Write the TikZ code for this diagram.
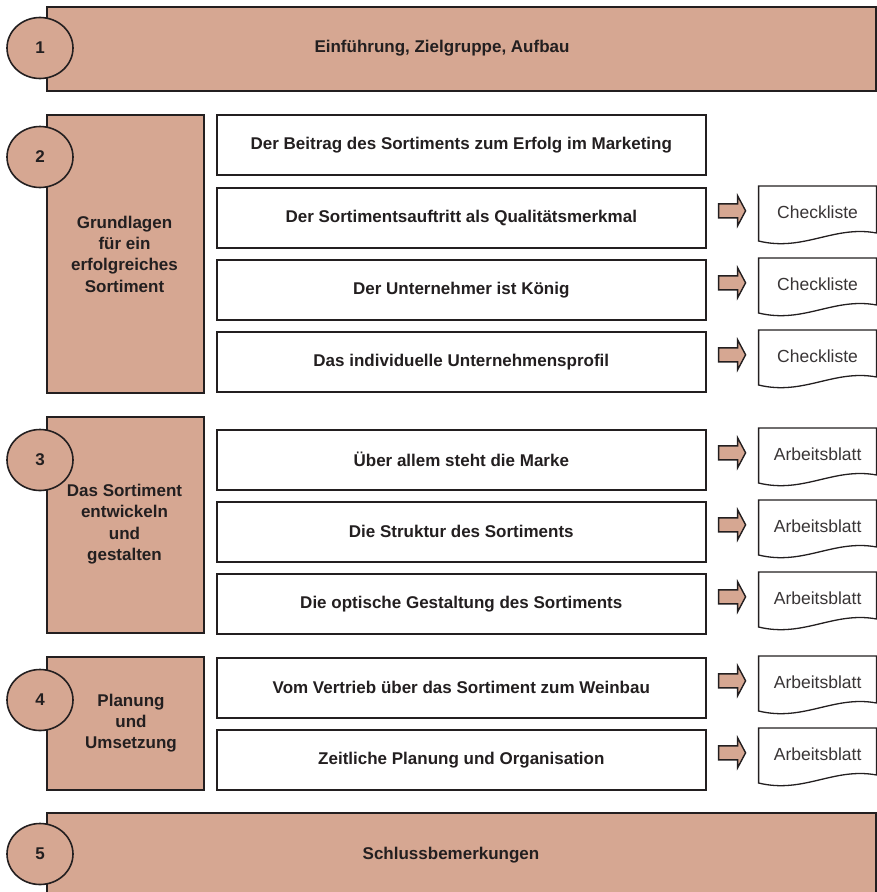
\documentclass[tikz,border=0pt]{standalone}
\usepackage{fontspec}
\setmainfont{Liberation Sans}
\usetikzlibrary{shapes.geometric}
\definecolor{tan}{RGB}{214,167,146}
\definecolor{ink}{RGB}{35,31,32}
\begin{document}
\begin{tikzpicture}[x=1pt,y=-1pt,
  band/.style={draw=ink, fill=tan, line width=1.6pt, inner sep=0pt, anchor=north west},
  item/.style={draw=ink, fill=white, line width=1.6pt, inner sep=0pt, anchor=north west, minimum width=489pt, minimum height=60pt, font=\bfseries\fontsize{17}{20}\selectfont, text=ink},
  num/.style={ellipse, draw=ink, fill=tan, line width=1.6pt, inner sep=0pt, minimum width=66pt, minimum height=61pt, font=\bfseries\fontsize{17}{20}\selectfont, text=ink},
  ttl/.style={font=\bfseries\fontsize{17}{20}\selectfont, text=ink, align=center},
  side/.style={font=\bfseries\fontsize{17}{21.3}\selectfont, text=ink, align=center},
  doctext/.style={font=\fontsize{17.5}{20}\selectfont, text=ink!90},
  docshape/.pic={\draw[ink, fill=white, line width=1.3pt] (0,0) -- (118,0) -- (118,47) .. controls (75,39) and (45,66) .. (0,55) -- cycle;},
  blockarrow/.pic={\draw[ink, fill=tan, line width=1.4pt, line join=miter] (0,-7) -- (19,-7) -- (19,-15) -- (27,0) -- (19,15) -- (19,7) -- (0,7) -- cycle;}
]
\useasboundingbox (0,0) rectangle (876,892);
% bands
\node[band, minimum width=829pt, minimum height=84pt] (s1) at (46,6) {};
\node[ttl] (t1) at (442,48) {Einführung, Zielgruppe, Aufbau};
\node[band, minimum width=157pt, minimum height=278pt] (s2) at (46,114) {};
\node[side] (t2) at (124.5,254) {Grundlagen\\für ein\\erfolgreiches\\Sortiment};
\node[band, minimum width=157pt, minimum height=216pt] (s3) at (46,416) {};
\node[side] (t3) at (124.5,524) {Das Sortiment\\entwickeln\\und\\gestalten};
\node[band, minimum width=157pt, minimum height=133pt] (s4) at (46,656) {};
\node[side] (t4) at (131,723) {Planung\\und\\Umsetzung};
\node[band, minimum width=829pt, minimum height=100pt] (s5) at (46,812) {};
\node[ttl] (t5) at (451,855) {Schlussbemerkungen};
% circles
\node[num] (n1) at (40,48) {1};
\node[num] (n2) at (40,157) {2};
\node[num] (n3) at (40,460) {3};
\node[num] (n4) at (40,700) {4};
\node[num] (n5) at (40,854) {5};
% items
\node[item] (ra1) at (216,114) {Der Beitrag des Sortiments zum Erfolg im Marketing};
\foreach \n/\y/\t/\d in {
  a2/187/{Der Sortimentsauftritt als Qualitätsmerkmal}/Checkliste,
  a3/259/{Der Unternehmer ist König}/Checkliste,
  a4/331/{Das individuelle Unternehmensprofil}/Checkliste,
  b1/429/{Über allem steht die Marke}/Arbeitsblatt,
  b2/501/{Die Struktur des Sortiments}/Arbeitsblatt,
  b3/573/{Die optische Gestaltung des Sortiments}/Arbeitsblatt,
  c1/657/{Vom Vertrieb über das Sortiment zum Weinbau}/Arbeitsblatt,
  c2/729/{Zeitliche Planung und Organisation}/Arbeitsblatt}{
  \node[item] (r\n) at (216,\y) {\t};
  \coordinate (ar\n) at ([xshift=12pt, yshift=7pt]r\n.east);
  \pic at (ar\n) {blockarrow};
  \coordinate (dc\n) at ([xshift=52pt, yshift=1pt]r\n.north east);
  \pic at (dc\n) {docshape};
  \node[doctext] (d\n) at ([xshift=59pt, yshift=-26pt]dc\n) {\d};
}
\end{tikzpicture}
\end{document}
